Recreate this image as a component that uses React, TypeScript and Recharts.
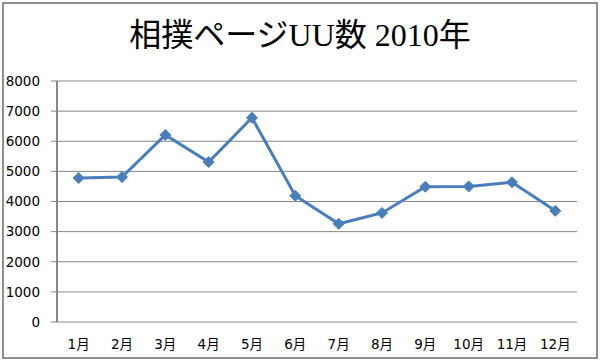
import React from "react";
import { LineChart, Line, XAxis, YAxis, CartesianGrid } from "recharts";

const months = ["1月", "2月", "3月", "4月", "5月", "6月", "7月", "8月", "9月", "10月", "11月", "12月"];
const uu = [4780, 4810, 6210, 5310, 6780, 4190, 3260, 3620, 4490, 4500, 4640, 3690];
const yTicks = [0, 1000, 2000, 3000, 4000, 5000, 6000, 7000, 8000];
const edgeTicks = [0, 1, 2, 3, 4, 5, 6, 7, 8, 9, 10, 11, 12];
const title = "相撲ページUU数 2010年";

const data = months.map((m, i) => ({ month: m, uu: uu[i], idx: i + 0.5 }));

const BLUE = "#4A7EBB";
const GRID = "#878787";

const Diamond = (props: any) => {
  const { cx, cy, index } = props;
  if (cx == null || cy == null) return null;
  const r = 5.5;
  return (
    <polygon
      key={"d" + index}
      points={`${cx},${cy - r} ${cx + r},${cy} ${cx},${cy + r} ${cx - r},${cy}`}
      fill={BLUE}
      stroke={BLUE}
      strokeWidth={1}
    />
  );
};

const tickFont = { fontFamily: "'DejaVu Sans', 'Noto Sans CJK JP', sans-serif", fontSize: 13.5, fill: "#000" };

export default function App() {
  return (
    <div style={{ position: "absolute", left: 0, top: 0, width: 600, height: 361, background: "#fff" }}>
      <div
        style={{
          position: "absolute",
          left: 2,
          top: 2,
          width: 596,
          height: 357,
          boxSizing: "border-box",
          border: "2px solid #8f8f8f",
        }}
      />
      <div
        style={{
          position: "absolute",
          left: 0,
          top: 15,
          width: 600,
          textAlign: "center",
          fontFamily: "'Liberation Serif', 'Noto Sans CJK JP', serif",
          fontSize: 32,
          lineHeight: "40px",
          color: "#000",
        }}
      >
        {title}
      </div>
      <div style={{ position: "absolute", left: 0, top: 0 }}>
        <LineChart width={600} height={361} data={data} margin={{ top: 81, right: 23, bottom: 0, left: 0 }}>
          <CartesianGrid vertical={false} stroke={GRID} strokeWidth={1} />
          <XAxis
            xAxisId="edge"
            type="number"
            dataKey="idx"
            domain={[0, 12]}
            ticks={edgeTicks}
            tickFormatter={() => ""}
            height={0}
            axisLine={{ stroke: GRID, strokeWidth: 2 }}
            tickLine={{ stroke: GRID, strokeWidth: 1.5 }}
            tickSize={6}
            allowDataOverflow
          />
          <XAxis
            dataKey="month"
            scale="band"
            height={39}
            axisLine={false}
            tickLine={false}
            tick={tickFont}
            tickMargin={11}
            interval={0}
          />
          <YAxis
            domain={[0, 8000]}
            ticks={yTicks}
            width={57}
            axisLine={{ stroke: GRID, strokeWidth: 2 }}
            tickLine={{ stroke: GRID, strokeWidth: 1 }}
            tickSize={6}
            tickMargin={11}
            tick={tickFont}
            interval={0}
          />
          <Line
            type="linear"
            dataKey="uu"
            stroke={BLUE}
            strokeWidth={3}
            dot={Diamond}
            activeDot={false}
            isAnimationActive={false}
          />
        </LineChart>
      </div>
    </div>
  );
}
